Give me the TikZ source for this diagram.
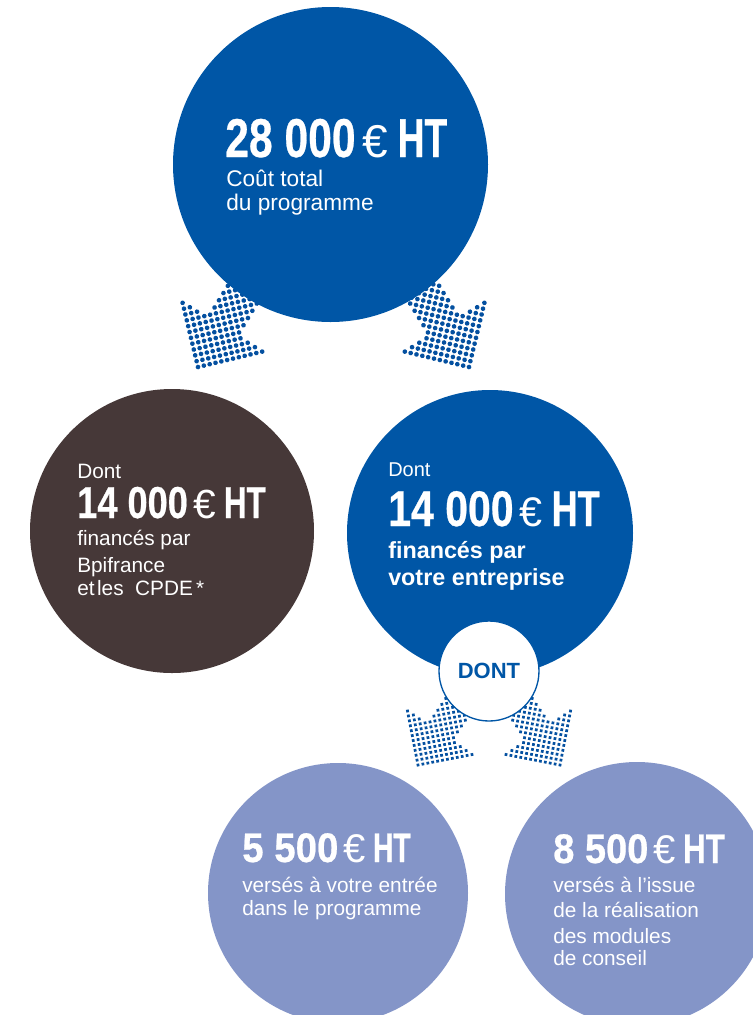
\documentclass[tikz,border=0pt]{standalone}
\usepackage{graphicx}
\usepackage{fontspec}
\setmainfont{Liberation Sans}
\newfontfamily\numfont[FakeBold=0.6]{Liberation Sans}
\definecolor{cblue}{RGB}{0,86,166}
\definecolor{cbrown}{RGB}{70,56,56}
\definecolor{clav}{RGB}{132,149,200}
\definecolor{dotblue}{RGB}{4,80,160}
% #1 size of digits, #2 size of euro sign, #3 amount, #4 digit stretch, #5 HT stretch
\newcommand\bigline[5]{{\fontsize{#1}{#1}\selectfont\numfont\bfseries\scalebox{#4}[1]{#3}\hspace{0.12em}}{\fontsize{#2}{#2}\selectfont €}{\fontsize{#1}{#1}\selectfont\hspace{0.18em}\numfont\bfseries\scalebox{#5}[1]{HT}}}
% dotted arrow: #1,#2 tip, #3 rotation, #4 half diagonal step, #5 dot radius, #6 rows
\newcommand\dotarrow[6]{%
\begin{scope}[shift={(#1,#2)},rotate=#3]
\foreach \a in {0,...,#6}{\foreach \b in {0,...,#6}{%
\pgfmathtruncatemacro\sumab{\a+\b}%
\pgfmathtruncatemacro\difab{abs(\a-\b)}%
\ifnum\sumab<#6 \ifnum\sumab<12 \fill[dotblue] ({(\a-\b)*#4},{-(\a+\b)*#4}) circle (#5);\else\ifnum\difab<5 \fill[dotblue] ({(\a-\b)*#4},{-(\a+\b)*#4}) circle (#5);\fi\fi\fi}}
\end{scope}}
\begin{document}
\begin{tikzpicture}[x=0.75pt,y=-0.75pt,
  txt/.style={anchor=base west, inner sep=0pt, text=white},
  disc/.style={circle, inner sep=0pt, draw=none},
  body/.style={font=\fontsize{15.6}{15.6}\selectfont}]
\path[use as bounding box] (0,0) rectangle (753,1015);
\clip (0,0) rectangle (753,1015);
% dotted arrows
\dotarrow{198}{367}{-31.5}{4.243}{1.75pt}{25}
\dotarrow{469}{367}{31.5}{4.243}{1.75pt}{25}
\dotarrow{418}{765}{-34}{3.536}{1.45pt}{23}
\dotarrow{560}{765}{34}{3.536}{1.45pt}{23}
% circles
\node[disc, fill=cblue, minimum size=236.25pt] (top) at (330.5,164.5) {};
\node[disc, fill=cbrown, minimum size=213pt] (brown) at (172,531) {};
\node[disc, fill=cblue, minimum size=214.5pt] (mid) at (490,533) {};
\node[disc, fill=clav, minimum size=195pt] (lowl) at (338,893) {};
\node[disc, fill=clav, minimum size=198pt] (lowr) at (637,894) {};
\node[circle, inner sep=0pt, fill=white, draw=cblue, line width=1pt, minimum size=75pt,
      text=cblue, font=\bfseries\fontsize{16.5}{16.5}\selectfont] (dont) at (489,671) {DONT};
% top circle texts
\node[txt] (t1) at (225,157) {\bigline{41}{34.5}{28 000}{0.78}{0.68}};
\node[txt, font=\fontsize{17}{17}\selectfont] (t2) at (226,186) {Coût total};
\node[txt, font=\fontsize{17}{17}\selectfont] (t3) at (226,210) {du programme};
% brown circle texts
\node[txt, body] (b0) at (77,478) {Dont};
\node[txt] (b1) at (77,518) {\bigline{33.5}{30.5}{14 000}{0.81}{0.7}};
\node[txt, body] (b2) at (77,545) {financés par};
\node[txt, body] (b3) at (77,572) {Bpifrance};
\node[txt, body] (b4) at (77,595) {et\hspace{0.12em}les\hspace{0.55em}CPDE\hspace{0.15em}*};
% middle blue circle texts
\node[txt, font=\fontsize{15}{15}\selectfont] (m0) at (388,476) {Dont};
\node[txt] (m1) at (388,526) {\bigline{37.5}{31}{14 000}{0.82}{0.72}};
\node[txt, font=\bfseries\fontsize{17.5}{17.5}\selectfont] (m2) at (388,558) {financés par};
\node[txt, font=\bfseries\fontsize{17.5}{17.5}\selectfont] (m3) at (388,585) {votre entreprise};
% lower left texts
\node[txt] (l1) at (242,862) {\bigline{31}{30}{5 500}{0.93}{0.68}};
\node[txt, body] (l2) at (242,892) {versés à votre entrée};
\node[txt, body] (l3) at (242,915) {dans le programme};
% lower right texts
\node[txt] (r1) at (553,863) {\bigline{31}{30}{8 500}{0.92}{0.76}};
\node[txt, body] (r2) at (553,892) {versés à l’issue};
\node[txt, body] (r3) at (553,917) {de la réalisation};
\node[txt, body] (r4) at (553,943) {des modules};
\node[txt, body] (r5) at (553,965) {de conseil};
\end{tikzpicture}
\end{document}
